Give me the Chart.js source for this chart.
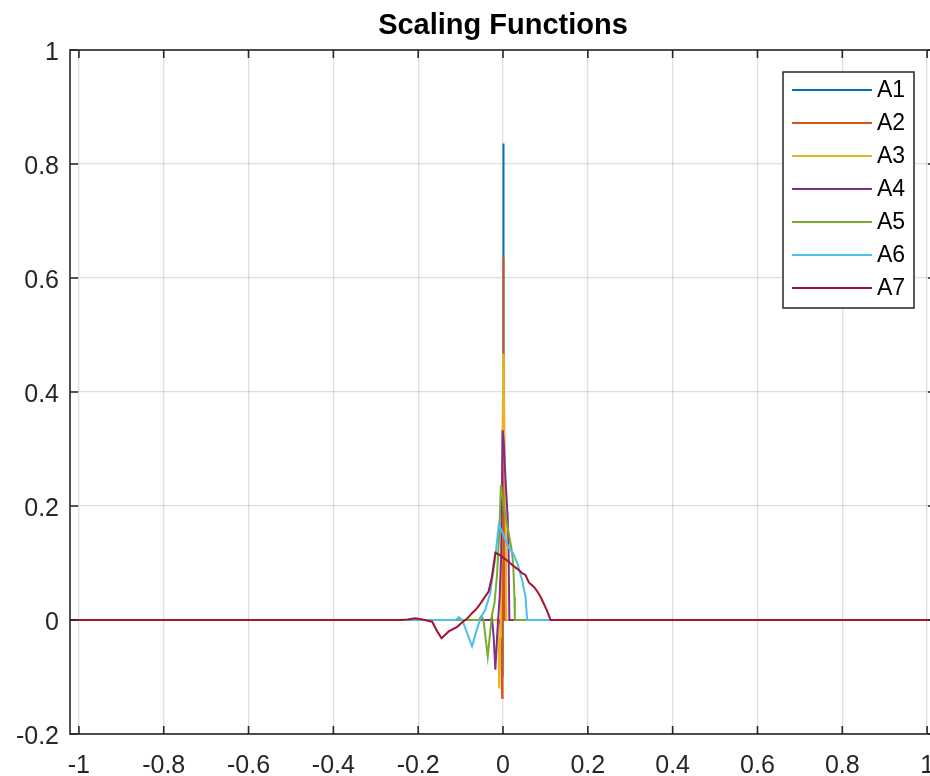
<!DOCTYPE html>
<html><head><meta charset="utf-8">
<script src="https://cdn.jsdelivr.net/npm/chart.js@4/dist/chart.umd.min.js"></script>
<style>html,body{margin:0;padding:0;overflow:hidden;background:#fff;width:930px;height:776px}#wrap{width:940px;height:776px;position:absolute;left:0;top:0}canvas{display:block}</style>
</head><body>
<div id="wrap"><canvas id="c" width="940" height="776"></canvas></div>
<script>
const seriesNames = ['A1','A2','A3','A4','A5','A6','A7'];

const a1X = [-1.021, -0.004, -0.002, -0.001, 0, 0.0005, 0.001, 0.002, 1.021];
const a1Y = [0, 0, -0.02, -0.10, 0.30, 0.836, 0.60, 0, 0];

const a2X = [-1.021, -0.008, -0.006, -0.004, -0.002, -0.001, 0, 0.0005, 0.001, 0.002, 0.003, 0.004, 1.021];
const a2Y = [0, 0, -0.01, -0.05, -0.137, 0.10, 0.40, 0.637, 0.50, 0.35, 0.20, 0, 0];

const a3X = [-1.021, -0.015, -0.013, -0.011, -0.009, -0.007, -0.005, -0.003, -0.001, 0.0005, 0.002, 0.004, 0.006, 0.008, 1.021];
const a3Y = [0, 0, 0.002, -0.02, -0.12, -0.03, 0.05, 0.15, 0.30, 0.467, 0.40, 0.30, 0.20, 0, 0];

const a4X = [-1.021, -0.029, -0.026, -0.022, -0.018, -0.014, -0.011, -0.008, -0.004, -0.001, 0.002, 0.005, 0.008, 0.011, 0.013, 0.015, 1.021];
const a4Y = [0, 0, 0.004, -0.03, -0.087, -0.03, 0.006, 0.04, 0.12, 0.333, 0.31, 0.26, 0.22, 0.18, 0.13, 0, 0];

const a5X = [-1.021, -0.057, -0.051, -0.046, -0.036, -0.030, -0.026, -0.020, -0.014, -0.009, -0.005, -0.002, 0.004, 0.009, 0.014, 0.020, 0.024, 0.027, 0.028, 1.021];
const a5Y = [0, 0, 0.007, 0, -0.064, -0.02, 0.009, 0.03, 0.08, 0.15, 0.237, 0.22, 0.19, 0.17, 0.15, 0.125, 0.10, 0.04, 0, 0];

const a6X = [-1.021, -0.112, -0.104, -0.096, -0.085, -0.073, -0.063, -0.053, -0.042, -0.030, -0.018, -0.010, -0.002, 0.006, 0.014, 0.024, 0.034, 0.045, 0.053, 0.057, 1.021];
const a6Y = [0, 0, 0.005, 0, -0.022, -0.046, -0.020, 0.003, 0.018, 0.047, 0.111, 0.167, 0.155, 0.140, 0.126, 0.117, 0.099, 0.070, 0.041, 0, 0];

const a7X = [-1.021, -0.242, -0.225, -0.207, -0.190, -0.167, -0.155, -0.145, -0.128, -0.108, -0.096, -0.085, -0.073, -0.062, -0.053, -0.045, -0.034, -0.026, -0.018, -0.010, -0.002, 0.012, 0.026, 0.037, 0.045, 0.053, 0.061, 0.073, 0.081, 0.089, 0.096, 0.104, 0.110, 0.112, 1.021];
const a7Y = [0, 0, 0.001, 0.003, 0.001, -0.003, -0.020, -0.032, -0.020, -0.012, -0.004, 0.002, 0.012, 0.020, 0.029, 0.038, 0.050, 0.076, 0.118, 0.115, 0.111, 0.103, 0.094, 0.088, 0.082, 0.079, 0.066, 0.058, 0.050, 0.040, 0.029, 0.016, 0.004, 0, 0];

const xTicks = [-1, -0.8, -0.6, -0.4, -0.2, 0, 0.2, 0.4, 0.6, 0.8, 1];
const xTickLabels = ['-1', '-0.8', '-0.6', '-0.4', '-0.2', '0', '0.2', '0.4', '0.6', '0.8', '1'];
const yTicks = [-0.2, 0, 0.2, 0.4, 0.6, 0.8, 1];
const yTickLabels = ['-0.2', '0', '0.2', '0.4', '0.6', '0.8', '1'];

const allX = [a1X, a2X, a3X, a4X, a5X, a6X, a7X];
const allY = [a1Y, a2Y, a3Y, a4Y, a5Y, a6Y, a7Y];
const lineColors = ['#0072BD', '#D95319', '#EDB120', '#7E2F8E', '#77AC30', '#4DBEEE', '#A2142F'];

const datasets = seriesNames.map((name, k) => ({
  label: name,
  data: allX[k].map((x, i) => ({ x: x, y: allY[k][i] })),
  borderColor: lineColors[k],
  backgroundColor: lineColors[k],
  borderWidth: 2,
  pointRadius: 0,
  tension: 0,
  fill: false,
  order: seriesNames.length - 1 - k
}));

const AXC = '#262626';
const framePlugin = {
  id: 'frame',
  afterDraw(chart) {
    const { ctx, chartArea: a, scales } = chart;
    const x = scales.x, y = scales.y;
    ctx.save();
    ctx.strokeStyle = AXC;
    ctx.lineWidth = 1.6;
    ctx.strokeRect(a.left, a.top, a.right - a.left, a.bottom - a.top);
    const L = 8;
    ctx.beginPath();
    x.ticks.forEach(t => {
      const px = x.getPixelForValue(t.value);
      ctx.moveTo(px, a.bottom); ctx.lineTo(px, a.bottom - L);
      ctx.moveTo(px, a.top); ctx.lineTo(px, a.top + L);
    });
    y.ticks.forEach(t => {
      const py = y.getPixelForValue(t.value);
      ctx.moveTo(a.left, py); ctx.lineTo(a.left + L, py);
      ctx.moveTo(a.right, py); ctx.lineTo(a.right - L, py);
    });
    ctx.stroke();

    // legend (northeast, inside axes)
    const lw = 131, lh = 236;
    const lx = a.right - 22 - lw, ly = a.top + 22;
    ctx.fillStyle = '#ffffff';
    ctx.fillRect(lx, ly, lw, lh);
    ctx.lineWidth = 1.5;
    ctx.strokeStyle = AXC;
    ctx.strokeRect(lx, ly, lw, lh);
    ctx.font = '23px "Liberation Sans", Arial, sans-serif';
    ctx.textBaseline = 'middle';
    ctx.textAlign = 'left';
    chart.data.datasets.forEach((ds, i) => {
      const cy = ly + 18 + i * 33;
      ctx.strokeStyle = ds.borderColor;
      ctx.lineWidth = 2;
      ctx.beginPath();
      ctx.moveTo(lx + 9, cy); ctx.lineTo(lx + 89, cy);
      ctx.stroke();
      ctx.fillStyle = '#000000';
      ctx.fillText(ds.label, lx + 94, cy + 1);
    });
    ctx.restore();
  }
};

new Chart(document.getElementById('c'), {
  type: 'line',
  data: { datasets: datasets },
  plugins: [framePlugin],
  options: {
    responsive: false,
    maintainAspectRatio: false,
    animation: false,
    devicePixelRatio: 1,
    layout: { padding: { left: 0, right: 4, top: 0, bottom: 0 } },
    plugins: {
      legend: { display: false },
      tooltip: { enabled: false },
      title: {
        display: true,
        fullSize: false,
        text: 'Scaling Functions',
        color: '#000000',
        font: { family: '"Liberation Sans", Arial, sans-serif', size: 29, weight: 'bold' },
        padding: { top: 9, bottom: 6.2 }
      }
    },
    scales: {
      x: {
        type: 'linear',
        min: -1.021,
        max: 1.021,
        afterBuildTicks: s => { s.ticks = xTicks.map(v => ({ value: v })); },
        afterFit: s => { s.height = 42; },
        ticks: {
          autoSkip: false,
          maxRotation: 0,
          padding: 0,
          color: AXC,
          font: { family: '"Liberation Sans", Arial, sans-serif', size: 25 },
          callback: (v, i) => xTickLabels[i]
        },
        grid: { color: 'rgba(38,38,38,0.15)', lineWidth: 1.3, drawTicks: true, tickLength: 17, tickColor: 'rgba(0,0,0,0)' },
        border: { display: false }
      },
      y: {
        type: 'linear',
        min: -0.2,
        max: 1,
        afterBuildTicks: s => { s.ticks = yTicks.map(v => ({ value: v })); },
        afterFit: s => { s.width = 70; },
        ticks: {
          autoSkip: false,
          padding: 11,
          labelOffset: 3,
          color: AXC,
          font: { family: '"Liberation Sans", Arial, sans-serif', size: 25 },
          callback: (v, i) => yTickLabels[i]
        },
        grid: { color: 'rgba(38,38,38,0.15)', lineWidth: 1.3, drawTicks: false },
        border: { display: false }
      }
    }
  }
});
</script>
</body></html>
